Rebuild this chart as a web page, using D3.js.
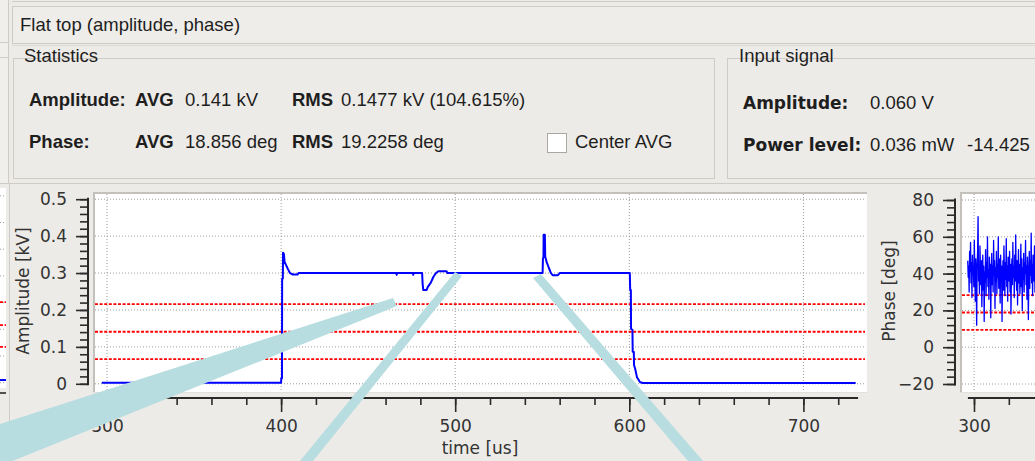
<!DOCTYPE html>
<html>
<head>
<meta charset="utf-8">
<script src="https://cdn.jsdelivr.net/npm/d3@7"></script>
<style>
html, body { margin: 0; padding: 0; background: #edebe7; overflow: hidden; }
svg { display: block; }
.gui { font-family: "Liberation Sans", Arial, sans-serif; font-size: 18.5px; fill: #1e1e1e; }
.gui.b { font-weight: bold; }
.dv { font-family: "DejaVu Sans", sans-serif; font-size: 17px; font-weight: bold; fill: #1e1e1e; }
.axis text { font-family: "DejaVu Sans", sans-serif; font-size: 17px; fill: #333; }
.axis line { stroke: #2a2a2a; stroke-width: 1.6; }
.atitle { font-family: "DejaVu Sans", sans-serif; font-size: 17px; fill: #333; }
</style>
</head>
<body>
<div id="chart"></div>
<script>
// amplitude trace [us, kV]
var ampTime = [297, 400.0, 400.1, 400.5, 400.6, 401.0, 401.1, 401.6, 402.0, 402.8, 404.0, 405.1, 406.8, 409.5, 410.0,
  466.2, 466.4, 466.6, 475.7, 475.9, 476.1, 481.0, 481.3, 481.7, 483.6, 484.2, 486.0, 487.5, 489.0, 490.3, 495.0, 495.5,
  550.2, 550.4, 550.7, 550.8, 551.5, 551.7, 552.5, 553.7, 555.0, 556.0, 559.0, 560.0,
  600.3, 600.5, 600.9, 601.0, 601.8, 601.95, 602.6, 602.7, 603.4, 604.4, 606.2, 607.9, 730];
var ampValue = [0.003, 0.003, 0.015, 0.015, 0.284, 0.285, 0.355, 0.352, 0.330, 0.322, 0.310, 0.300, 0.296, 0.296, 0.300,
  0.300, 0.295, 0.300, 0.300, 0.295, 0.300, 0.300, 0.270, 0.254, 0.254, 0.262, 0.274, 0.290, 0.300, 0.305, 0.305, 0.300,
  0.300, 0.340, 0.342, 0.404, 0.404, 0.345, 0.330, 0.315, 0.300, 0.294, 0.294, 0.300,
  0.300, 0.254, 0.254, 0.149, 0.147, 0.087, 0.086, 0.051, 0.040, 0.018, 0.004, 0.002, 0.002];
var ampLevels = [0.216, 0.141, 0.067];   // avg and band, red dashed

// phase trace [deg], sampled from phaseStart every phaseStep us
var phaseStart = 296.4, phaseStep = 0.27;
var phaseValue = [
  47, 38, 44, 30, 52, 41, 57, 35, 46, 27, 50, 40, 44, 33, 58, 42, 25, 48, 37, 12,
  45, 52, 71, 36, 40, 29, 55, 43, 34, 47, 22, 39, 50, 31, 44, 14, 41, 36, 53, 28,
  46, 38, 60, 33, 42, 26, 49, 37, 45, 16, 40, 51, 34, 44, 30, 58, 39, 47, 21, 43,
  36, 52, 29, 45, 38, 60, 32, 48, 41, 24, 50, 35, 44, 14, 39, 47, 31, 55, 42, 28,
  46, 37, 59, 33, 44, 25, 49, 40, 36, 52, 30, 45, 18, 41, 48, 34, 57, 38, 44, 27,
  50, 36, 61, 42, 31, 47, 23, 40, 53, 35, 45, 29, 38, 56, 33, 48, 20, 43, 37, 51,
  30, 46, 40, 58, 34, 44, 26, 49, 38, 15, 42, 52, 32, 47, 39, 62, 35, 45, 28, 50,
  41, 36, 55, 30, 44, 38];
var phaseLevels = [28.3, 18.856, 9.4];

var timeTicks = [300, 400, 500, 600, 700];
var ampTicks = [0, 0.1, 0.2, 0.3, 0.4, 0.5];
var phaseTicks = [-20, 0, 20, 40, 60, 80];

var W = 1035, H = 461;
var svg = d3.select("#chart").append("svg").attr("width", W).attr("height", H);

// ---------- window chrome ----------
var frame = "#cfccc7";
svg.append("line").attr("x1", 12).attr("x2", W).attr("y1", 1.5).attr("y2", 1.5).attr("stroke", frame);
svg.append("rect").attr("x", 12.5).attr("y", 6.5).attr("width", W).attr("height", 37)
  .attr("fill", "#efede9").attr("stroke", frame);
svg.append("line").attr("x1", 12).attr("x2", W).attr("y1", 45.5).attr("y2", 45.5).attr("stroke", "#dedbd6");
svg.append("text").attr("class", "gui").attr("x", 20).attr("y", 31).text("Flat top (amplitude, phase)");

// left neighbour panel sliver
svg.append("rect").attr("x", 0).attr("y", 0).attr("width", 8).attr("height", 183).attr("fill", "#f1efeb");
svg.append("line").attr("x1", 8.5).attr("x2", 8.5).attr("y1", 0).attr("y2", 183).attr("stroke", frame);
[42.5, 57.5].forEach(function (yy) {
  svg.append("line").attr("x1", 0).attr("x2", 8).attr("y1", yy).attr("y2", yy).attr("stroke", frame);
});
svg.append("line").attr("x1", 0).attr("x2", W).attr("y1", 183.5).attr("y2", 183.5).attr("stroke", frame);
svg.append("line").attr("x1", 9.5).attr("x2", 9.5).attr("y1", 184).attr("y2", H).attr("stroke", frame);

// group boxes
function groupBox(x0, y0, x1, y1, label, lx) {
  svg.append("rect").attr("x", x0 + 0.5).attr("y", y0 + 0.5).attr("width", x1 - x0).attr("height", y1 - y0)
    .attr("fill", "none").attr("stroke", frame);
  var t = svg.append("text").attr("class", "gui").attr("x", lx).attr("y", y0 + 4).text(label);
  var bb = t.node().getBBox();
  svg.insert("rect", "text").attr("x", bb.x - 4).attr("y", y0 - 2).attr("width", bb.width + 8).attr("height", 5)
    .attr("fill", "#edebe7");
}
groupBox(13, 58, 714, 178, "Statistics", 24);
groupBox(727, 58, 1045, 178, "Input signal", 739);

function label(x, y, txt, cls) {
  svg.append("text").attr("class", cls).attr("x", x).attr("y", y).text(txt);
}
label(29, 106, "Amplitude:", "gui b");
label(135, 106, "AVG", "gui b");
label(185, 106, "0.141 kV", "gui");
label(292, 106, "RMS", "gui b");
label(341, 106, "0.1477 kV (104.615%)", "gui");
label(29, 148, "Phase:", "gui b");
label(135, 148, "AVG", "gui b");
label(185, 148, "18.856 deg", "gui");
label(292, 148, "RMS", "gui b");
label(341, 148, "19.2258 deg", "gui");
svg.append("rect").attr("x", 547.5).attr("y", 133.5).attr("width", 19).attr("height", 19)
  .attr("fill", "#ffffff").attr("stroke", "#aaa7a2");
label(575, 148, "Center AVG", "gui");

label(743, 109, "Amplitude:", "dv");
label(870, 109, "0.060 V", "gui");
label(743, 151, "Power level:", "dv");
label(870, 151, "0.036 mW", "gui");
label(967, 151, "-14.425", "gui");

// ---------- sliver of the neighbouring plot ----------
var sliverY = d3.scaleLinear().domain([0, 7]).range([382.7, 195.8]);
var sliverGrid = [1, 2, 3, 4, 5, 6, 7, 0];
var sliverLevels = [3.02, 2.16, 1.34];
svg.append("rect").attr("x", 0).attr("y", 188).attr("width", 6).attr("height", 200).attr("fill", "#fff");
sliverGrid.forEach(function (g) {
  svg.append("line").attr("x1", 0).attr("x2", 6).attr("y1", sliverY(g)).attr("y2", sliverY(g))
    .attr("stroke", "#a0a0a0").attr("stroke-dasharray", "1,2");
});
sliverLevels.forEach(function (g) {
  svg.append("line").attr("x1", 0).attr("x2", 6).attr("y1", sliverY(g)).attr("y2", sliverY(g))
    .attr("stroke", "#ff0000").attr("stroke-width", 1.8).attr("stroke-dasharray", "3,1.6");
});
svg.append("line").attr("x1", 0).attr("x2", 6).attr("y1", sliverY(0.1)).attr("y2", sliverY(0.1))
  .attr("stroke", "#0000ff").attr("stroke-width", 2);
svg.append("line").attr("x1", 0).attr("x2", 6).attr("y1", 393).attr("y2", 393).attr("stroke", "#2a2a2a").attr("stroke-width", 1.6);

// ---------- plot helper ----------
function canvas(x0, y0, x1, y1, id) {
  svg.append("rect").attr("x", x0).attr("y", y0).attr("width", x1 - x0).attr("height", y1 - y0).attr("fill", "#fff");
  svg.append("path").attr("d", "M" + (x0 + 1) + "," + y1 + "V" + (y0 + 1) + "H" + x1)
    .attr("fill", "none").attr("stroke", "#c4c1bc").attr("stroke-width", 2);
  svg.append("line").attr("x1", x0).attr("x2", x1).attr("y1", y1 - 0.5).attr("y2", y1 - 0.5).attr("stroke", "#e2e0dc");
  svg.append("clipPath").attr("id", id).append("rect")
    .attr("x", x0 + 2).attr("y", y0 + 2).attr("width", x1 - x0 - 3).attr("height", y1 - y0 - 3);
}

function plot(opt) {
  var x = d3.scaleLinear().domain([300, 700]).range([opt.x300, opt.x300 + 696.4]);
  var y = d3.scaleLinear().domain(opt.ydom).range(opt.yrange);
  canvas(opt.cx0, 192, opt.cx1, 393, opt.id);
  var g = svg.append("g").attr("clip-path", "url(#" + opt.id + ")");

  // grid
  timeTicks.forEach(function (t) {
    g.append("line").attr("x1", x(t)).attr("x2", x(t)).attr("y1", 194).attr("y2", 392)
      .attr("stroke", "#9c9c9c").attr("stroke-dasharray", "1,2");
  });
  opt.yticks.forEach(function (v) {
    g.append("line").attr("x1", opt.cx0 + 2).attr("x2", opt.cx1 - 2).attr("y1", y(v)).attr("y2", y(v))
      .attr("stroke", "#9c9c9c").attr("stroke-dasharray", "1,2");
  });
  // red levels
  g.selectAll(".lvl").data(opt.levels).enter().append("line")
    .attr("x1", opt.cx0 + 2).attr("x2", opt.cx1 - 2)
    .attr("y1", function (d) { return y(d); }).attr("y2", function (d) { return y(d); })
    .attr("stroke", "#ff0000").attr("stroke-width", 1.8).attr("stroke-dasharray", "3,1.6");
  // trace
  var line = d3.line().x(function (d) { return x(d[0]); }).y(function (d) { return y(d[1]); });
  g.append("path").datum(opt.data).attr("d", line)
    .attr("fill", "none").attr("stroke", "#0000ff").attr("stroke-width", opt.lw).attr("stroke-linejoin", "round");

  // left axis
  var ax = opt.axisX;
  var yMinor = d3.range(opt.ydom[0], opt.ydom[1] + opt.minor / 2, opt.minor);
  svg.append("g").attr("class", "axis").attr("transform", "translate(" + ax + ",0)")
    .call(d3.axisLeft(y).tickValues(yMinor).tickSize(8).tickSizeOuter(0).tickFormat(""))
    .select(".domain").remove();
  var ya = svg.append("g").attr("class", "axis").attr("transform", "translate(" + ax + ",0)")
    .call(d3.axisLeft(y).tickValues(opt.yticks).tickSize(12).tickPadding(9).tickSizeOuter(0).tickFormat(opt.fmt));
  ya.select(".domain").remove();
  svg.append("line").attr("x1", ax).attr("x2", ax).attr("y1", opt.yrange[0] + 1.5).attr("y2", opt.yrange[1] - 1.5)
    .attr("stroke", "#2a2a2a").attr("stroke-width", 2);

  // bottom axis
  var tMinor = d3.range(300, opt.tTo, 20);
  var tMajor = timeTicks.filter(function (t) { return t <= opt.tTo - 20; });
  svg.append("g").attr("class", "axis").attr("transform", "translate(0,398)")
    .call(d3.axisBottom(x).tickValues(tMinor).tickSize(7).tickSizeOuter(0).tickFormat(""))
    .select(".domain").remove();
  svg.append("g").attr("class", "axis").attr("transform", "translate(0,398)")
    .call(d3.axisBottom(x).tickValues(tMajor).tickSize(14).tickPadding(8).tickSizeOuter(0).tickFormat(d3.format("d")))
    .select(".domain").remove();
  svg.append("line").attr("x1", x(opt.tFrom)).attr("x2", x(opt.tTo)).attr("y1", 398).attr("y2", 398)
    .attr("stroke", "#2a2a2a").attr("stroke-width", 2);

  svg.append("text").attr("class", "atitle").attr("text-anchor", "middle")
    .attr("transform", "translate(" + opt.titleX + ",291) rotate(-90)").text(opt.title);
  return x;
}

var ampData = ampTime.map(function (t, i) { return [t, ampValue[i]]; });
plot({
  id: "clipA", cx0: 93, cx1: 867, x300: 107, axisX: 88,
  ydom: [0, 0.5], yrange: [383.8, 199.2], yticks: ampTicks, minor: 0.02,
  fmt: function (d) { return d === 0 ? "0" : d3.format(".1f")(d); },
  levels: ampLevels, data: ampData, lw: 2,
  tFrom: 292, tTo: 731.4, titleX: 29, title: "Amplitude [kV]"
});
svg.append("text").attr("class", "atitle").attr("text-anchor", "middle").attr("x", 480).attr("y", 454).text("time [us]");

// phase plot: only its left part is inside the window
var phaseData = phaseValue.map(function (v, i) { return [phaseStart + i * phaseStep, v]; });
plot({
  id: "clipP", cx0: 960, cx1: 1045, x300: 974, axisX: 955,
  ydom: [-20, 80], yrange: [384, 200], yticks: phaseTicks, minor: 4,
  fmt: d3.format("d"),
  levels: phaseLevels, data: phaseData, lw: 1.3,
  tFrom: 296.5, tTo: 345, titleX: 895, title: "Phase [deg]"
});

// ---------- callout pointers laid over the screenshot ----------
var callouts = [
  [[0, 424], [393, 298], [397, 306], [0, 466]],
  [[455, 272], [462, 276], [313, 461], [300, 461]],
  [[533, 278], [541, 274], [703, 461], [688, 461]]
];
svg.selectAll(".callout").data(callouts).enter().append("polygon")
  .attr("points", function (d) { return d.join(" "); })
  .attr("fill", "#b7dde0");
</script>
</body>
</html>
